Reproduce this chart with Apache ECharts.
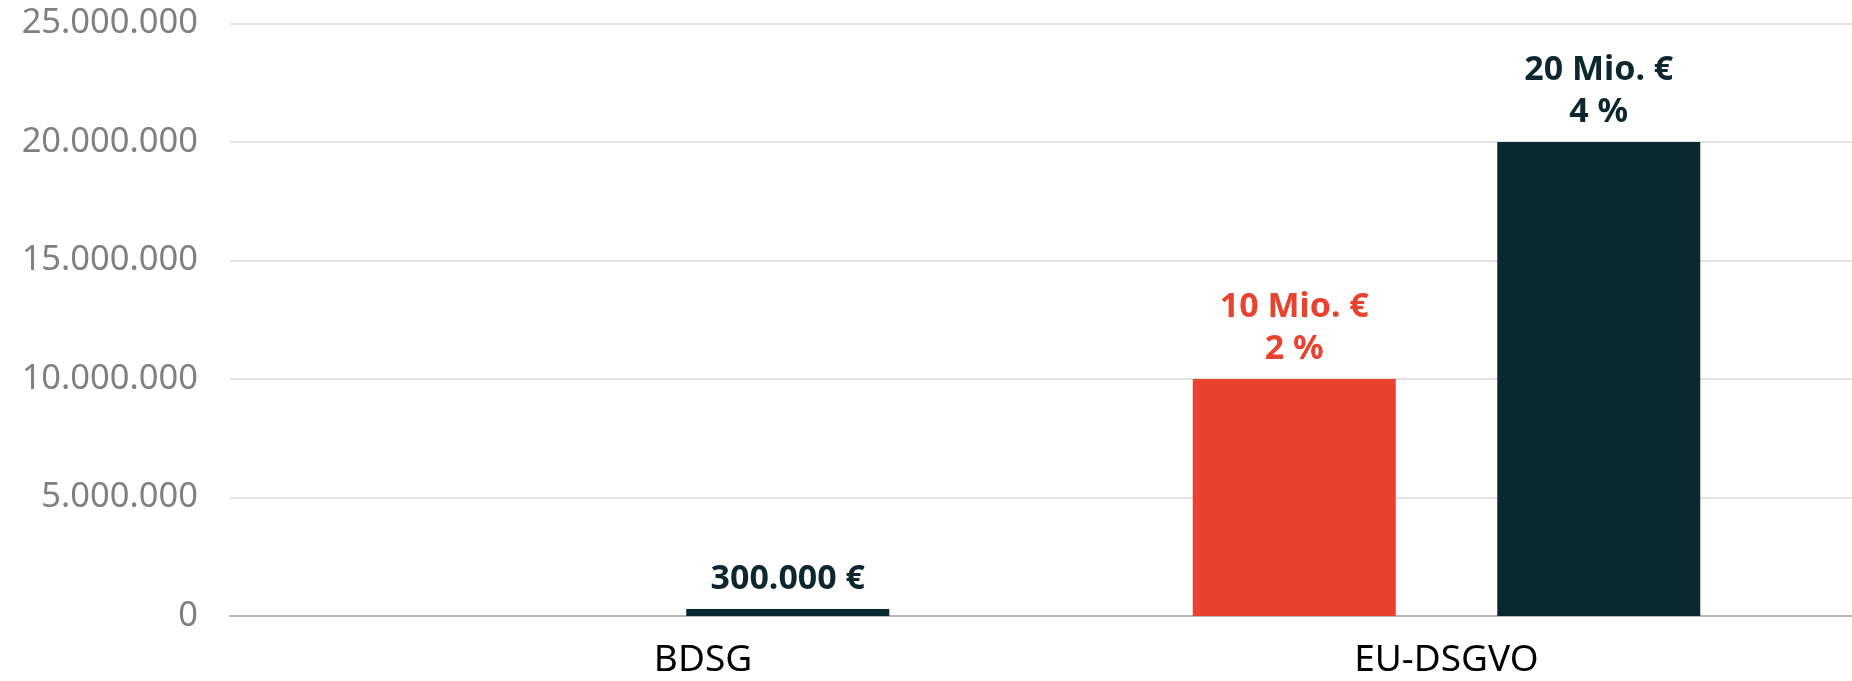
<!DOCTYPE html>
<html>
<head>
<meta charset="utf-8">
<script src="https://cdn.jsdelivr.net/npm/echarts@6/dist/echarts.min.js"></script>
<style>
  html, body { margin: 0; padding: 0; background: #ffffff; }
  #chart { width: 1852px; height: 681px; }
</style>
</head>
<body>
<div id="chart"></div>
<script>
const categories = ['BDSG', 'EU-DSGVO'];
const redValues = [null, 10000000];
const darkValues = [300000, 20000000];
const redLabels = ['', '10 Mio. €\n2 %'];
const darkLabels = ['300.000 €', '20 Mio. €\n4 %'];
const yTicks = { min: 0, max: 25000000, interval: 5000000 };

const RED = '#e94330';
const DARK = '#0b2730';
const FONT = 'Noto Sans';

function fmtThousands(v) {
  return String(v).replace(/\B(?=(\d{3})+(?!\d))/g, '.');
}

const chart = echarts.init(document.getElementById('chart'), null, { renderer: 'canvas' });
chart.setOption({
  animation: false,
  backgroundColor: '#ffffff',
  grid: { left: 230, right: 0, top: 23.5, bottom: 65, containLabel: false },
  xAxis: {
    type: 'category',
    data: categories,
    axisLine: { show: true, lineStyle: { color: '#a6a6a6', width: 1.5 } },
    axisTick: { show: false },
    axisLabel: {
      color: '#000000',
      fontFamily: FONT,
      fontSize: 37,
      margin: 26,
      formatter: function (v, i) { return i === 0 ? '{a|' + v + '}' : '{b|' + v + '}'; },
      rich: {
        a: { color: '#000000', fontFamily: FONT, fontSize: 37, padding: [0, 0, 0, 135] },
        b: { color: '#000000', fontFamily: FONT, fontSize: 37 }
      }
    }
  },
  yAxis: {
    type: 'value',
    min: yTicks.min,
    max: yTicks.max,
    interval: yTicks.interval,
    axisLine: { show: false },
    axisTick: { show: false },
    splitLine: { show: true, lineStyle: { color: '#d9d9d9', width: 1.5 } },
    axisLabel: {
      color: '#808080',
      fontFamily: FONT,
      fontSize: 34.5,
      margin: 32,
      formatter: fmtThousands
    }
  },
  series: [
    {
      type: 'bar',
      data: redValues,
      barWidth: 203,
      barGap: '50%',
      itemStyle: { color: RED },
      label: {
        show: true,
        position: 'top',
        distance: 9,
        color: RED,
        fontFamily: FONT,
        fontWeight: 'bold',
        fontSize: 34,
        lineHeight: 42,
        align: 'center',
        formatter: function (p) { return redLabels[p.dataIndex]; }
      }
    },
    {
      type: 'bar',
      data: darkValues,
      barWidth: 203,
      barGap: '50%',
      itemStyle: { color: DARK },
      label: {
        show: true,
        position: 'top',
        distance: 9,
        color: DARK,
        fontFamily: FONT,
        fontWeight: 'bold',
        fontSize: 34,
        lineHeight: 42,
        align: 'center',
        formatter: function (p) { return darkLabels[p.dataIndex]; }
      }
    }
  ]
});
</script>
</body>
</html>
